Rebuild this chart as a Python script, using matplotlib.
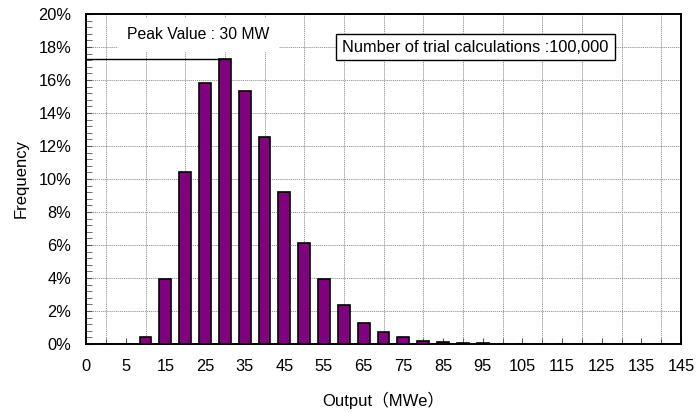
import matplotlib
matplotlib.use("Agg")
import matplotlib.pyplot as plt
from matplotlib.ticker import MultipleLocator, FixedLocator, PercentFormatter
import numpy as np

# ---- data ----
categories = ["0", "", "5", "10", "15", "20", "25", "30", "35", "40", "45", "50",
              "55", "60", "65", "70", "75", "80", "85", "90", "95", "100", "105",
              "110", "115", "120", "125", "130", "135", "140", "145"]
frequency = [0, 0, 0, 0.44, 3.95, 10.42, 15.82, 17.27, 15.35, 12.52, 9.19, 6.15,
             3.93, 2.38, 1.29, 0.75, 0.40, 0.20, 0.10, 0.07, 0.04, 0.02, 0.015,
             0.01, 0, 0, 0, 0, 0, 0, 0]
peak_label = "Peak Value : 30 MW"
peak_category = "30"
trials_label = "Number of trial calculations :100,000"
x_label = "Output（MWe）"
y_label = "Frequency"

plt.rcParams['font.family'] = ['Liberation Sans', 'Noto Sans CJK JP', 'DejaVu Sans']

fig = plt.figure(figsize=(6.97, 4.12), dpi=100)
ax = fig.add_axes([86/697, 1-344/412, (681-86)/697, (344-14)/412])

x = np.arange(len(categories))
ax.bar(x, frequency, width=0.6, color="#800080", edgecolor="black",
       linewidth=1.2, zorder=3)

ax.set_xlim(0, len(categories) - 1)
ax.set_ylim(0, 20)

# ticks
ax.xaxis.set_major_locator(FixedLocator(x[::2]))
ax.set_xticklabels(categories[::2])
ax.xaxis.set_minor_locator(FixedLocator(x))
ax.yaxis.set_major_locator(MultipleLocator(2))
ax.yaxis.set_minor_locator(MultipleLocator(0.4))
ax.yaxis.set_major_formatter(PercentFormatter(decimals=0))
ax.tick_params(axis='both', which='both', direction='in', labelsize=11.8,
               color='#555555')
ax.tick_params(axis='x', which='major', length=4, pad=10.5)
ax.tick_params(axis='x', which='minor', length=4)
ax.tick_params(axis='y', which='major', length=4, pad=10.5)
ax.tick_params(axis='y', which='minor', length=4)

# grid
ax.set_axisbelow(True)
ax.xaxis.grid(True, which='minor', color='#8a8a8a', linestyle=(0, (1.5, 1)),
              linewidth=0.6)
ax.yaxis.grid(True, which='major', color='#8a8a8a', linestyle=(0, (1.5, 1)),
              linewidth=0.6)

for s in ax.spines.values():
    s.set_linewidth(1.4)
    s.set_color('black')

ax.set_xlabel(x_label, fontsize=12, labelpad=13)
ax.set_ylabel(y_label, fontsize=12, labelpad=7)

# peak line
pi = categories.index(peak_category)
ax.plot([0, pi], [frequency[pi], frequency[pi]], color='black', linewidth=1.0,
        zorder=4, clip_on=False)

# peak text with white box (no border)
ax.text(5.67, 18.73, peak_label, ha='center', va='center', fontsize=11.3,
        bbox=dict(boxstyle='square,pad=0.6', facecolor='white',
                  edgecolor='none'), zorder=2.5)

# trials text box
ax.text(19.64, 18.0, trials_label, ha='center', va='center', fontsize=11.8,
        bbox=dict(boxstyle='square,pad=0.36', facecolor='white',
                  edgecolor='black', linewidth=1.0), zorder=5)

fig.savefig("out.png", dpi=100)
